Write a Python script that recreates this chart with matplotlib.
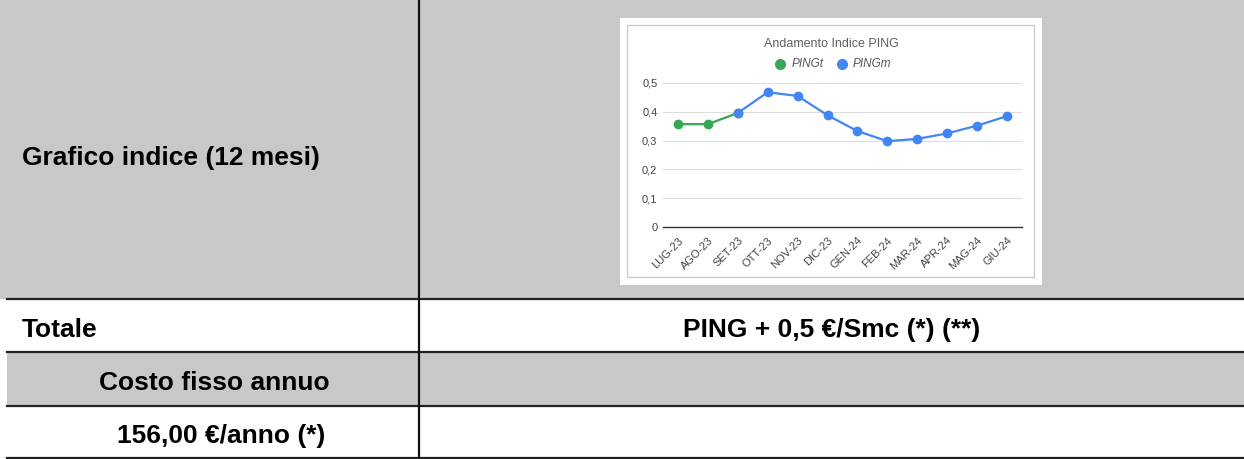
import matplotlib.pyplot as plt
from matplotlib.patches import Rectangle

# chart data
months = ["LUG-23", "AGO-23", "SET-23", "OTT-23", "NOV-23", "DIC-23",
          "GEN-24", "FEB-24", "MAR-24", "APR-24", "MAG-24", "GIU-24"]
ping_t = [0.357, 0.357, 0.396, None, None, None, None, None, None, None, None, None]
ping_m = [None, None, 0.396, 0.468, 0.455, 0.388, 0.333, 0.298, 0.306, 0.325, 0.352, 0.385]
y_ticks = [0, 0.1, 0.2, 0.3, 0.4, 0.5]
y_tick_labels = ["0", "0,1", "0,2", "0,3", "0,4", "0,5"]

# table text
row_labels = ["Grafico indice (12 mesi)", "Totale", "Costo fisso annuo", "156,00 €/anno (*)"]
totale_text = "PING + 0,5 €/Smc (*) (**)"

W, H = 1244, 459
fig = plt.figure(figsize=(W / 100, H / 100), dpi=100)
fig.patch.set_facecolor("white")

# table drawn in pixel coordinates
tab = fig.add_axes([0, 0, 1, 1])
tab.set_xlim(0, W)
tab.set_ylim(H, 0)
tab.axis("off")

gray = "#c8c8c8"
tab.add_patch(Rectangle((0, 0), W, 299, color=gray, lw=0))
tab.add_patch(Rectangle((7, 352), W - 7, 53, color=gray, lw=0))
for y in [299, 352, 405.5, 458]:
    tab.plot([7, W], [y, y], color="#222222", lw=1.6)
tab.plot([419, 419], [0, H], color="#111111", lw=1.6)

font = "Liberation Sans"
fs = 19
tab.text(22, 158, row_labels[0], fontsize=fs, fontweight="bold", family=font, va="center", ha="left")
tab.text(22, 330, row_labels[1], fontsize=fs, fontweight="bold", family=font, va="center", ha="left")
tab.text(214, 383, row_labels[2], fontsize=fs, fontweight="bold", family=font, va="center", ha="center")
tab.text(221, 436, row_labels[3], fontsize=fs, fontweight="bold", family=font, va="center", ha="center")
tab.text(832, 330, totale_text, fontsize=fs, fontweight="bold", family=font, va="center", ha="center")

# chart image background with thin border
tab.add_patch(Rectangle((620, 18), 422, 267, color="white", lw=0))
tab.add_patch(Rectangle((627, 25), 407, 252, facecolor="white", edgecolor="#cccccc", lw=1))

tab.text(831, 44, "Andamento Indice PING", fontsize=9, family="Liberation Sans", color="#5f5f5f",
         ha="center", va="center")
green = "#34a853"
blue = "#4285f4"
tab.plot([780], [64], "o", color=green, ms=7)
tab.text(792, 64, "PINGt", fontsize=8.5, family="Liberation Sans", style="italic", color="#555555", va="center")
tab.plot([842], [64], "o", color=blue, ms=7)
tab.text(853, 64, "PINGm", fontsize=8.5, family="Liberation Sans", style="italic", color="#555555", va="center")

# line chart
ax = fig.add_axes([663 / W, 1 - 227 / H, (1022 - 663) / W, (227 - 83) / H])
ax.set_facecolor("none")
x = list(range(len(months)))
xt = [i for i, v in enumerate(ping_t) if v is not None]
xm = [i for i, v in enumerate(ping_m) if v is not None]
ax.plot(xt, [ping_t[i] for i in xt], "-o", color=green, lw=1.6, ms=6, clip_on=False, zorder=3)
ax.plot(xm, [ping_m[i] for i in xm], "-o", color=blue, lw=1.6, ms=6, clip_on=False, zorder=4)
ax.set_xlim(-0.5, 11.5)
ax.set_ylim(0, 0.5)
ax.set_yticks(y_ticks)
ax.set_yticklabels(y_tick_labels, fontsize=8, color="#444444", family="Liberation Sans")
ax.set_xticks(x)
ax.set_xticklabels(months, rotation=45, ha="right", rotation_mode="anchor",
                   fontsize=8, color="#444444", family="Liberation Sans")
ax.tick_params(axis="x", length=0, pad=6)
ax.tick_params(axis="y", length=0, pad=4)
ax.grid(axis="y", color="#dddddd", lw=0.8)
ax.set_axisbelow(True)
for s in ["top", "right", "left"]:
    ax.spines[s].set_visible(False)
ax.spines["bottom"].set_color("#333333")
ax.spines["bottom"].set_linewidth(1)

fig.savefig("out.png", dpi=100)
